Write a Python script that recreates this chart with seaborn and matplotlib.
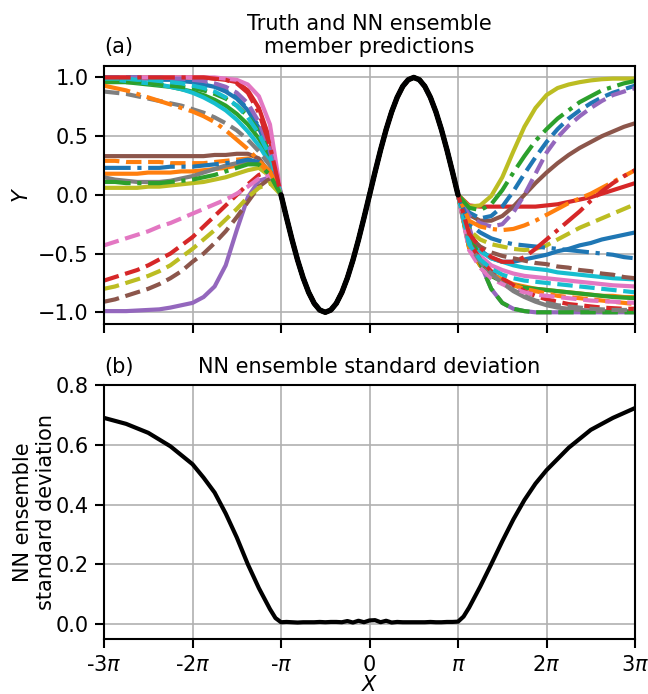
import numpy as np
import pandas as pd
import matplotlib
matplotlib.use("Agg")
import matplotlib.pyplot as plt
import seaborn as sns

# ---------------- data (x in units of pi) ----------------
x_left = [-3 + k / 8 for k in range(16)]          # -3 ... -1.125
x_center = [-1 + k / 16 for k in range(33)]       # -1 ... 1
x_right = [1 + k / 8 for k in range(1, 17)]       # 1.125 ... 3

# truth (sin) read on the centre grid
truth_center = [0.0, -0.195, -0.383, -0.556, -0.707, -0.831, -0.924, -0.981, -1.0,
                -0.981, -0.924, -0.831, -0.707, -0.556, -0.383, -0.195, 0.0,
                0.195, 0.383, 0.556, 0.707, 0.831, 0.924, 0.981, 1.0,
                0.981, 0.924, 0.831, 0.707, 0.556, 0.383, 0.195, 0.0]

colors10 = ["tab:blue", "tab:orange", "tab:green", "tab:red", "tab:purple",
            "tab:brown", "tab:pink", "tab:gray", "tab:olive", "tab:cyan"]

solid_left = [
    [0.99, 0.99, 0.99, 0.99, 0.99, 0.98, 0.98, 0.97, 0.96, 0.94, 0.92, 0.88, 0.82, 0.72, 0.57, 0.35],
    [0.18, 0.18, 0.18, 0.18, 0.19, 0.19, 0.19, 0.20, 0.20, 0.21, 0.22, 0.23, 0.25, 0.27, 0.26, 0.17],
    [0.96, 0.96, 0.96, 0.95, 0.94, 0.93, 0.92, 0.90, 0.88, 0.85, 0.81, 0.76, 0.69, 0.60, 0.48, 0.31],
    [1.00, 1.00, 1.00, 1.00, 1.00, 1.00, 1.00, 1.00, 1.00, 1.00, 0.99, 0.98, 0.96, 0.89, 0.74, 0.47],
    [-0.99, -0.99, -0.99, -0.985, -0.98, -0.975, -0.96, -0.94, -0.92, -0.87, -0.78, -0.60, -0.30, -0.02, 0.12, 0.15],
    [0.33, 0.33, 0.33, 0.33, 0.33, 0.33, 0.33, 0.33, 0.33, 0.33, 0.34, 0.34, 0.35, 0.35, 0.31, 0.18],
    [1.00, 1.00, 1.00, 1.00, 1.00, 1.00, 1.00, 1.00, 1.00, 1.00, 1.00, 0.99, 0.98, 0.94, 0.84, 0.60],
    [0.15, 0.13, 0.12, 0.11, 0.11, 0.11, 0.12, 0.14, 0.16, 0.19, 0.22, 0.25, 0.27, 0.29, 0.27, 0.17],
    [0.06, 0.06, 0.06, 0.06, 0.07, 0.07, 0.08, 0.09, 0.10, 0.11, 0.13, 0.15, 0.18, 0.21, 0.23, 0.16],
    [0.98, 0.98, 0.97, 0.96, 0.95, 0.94, 0.92, 0.90, 0.87, 0.83, 0.78, 0.72, 0.64, 0.54, 0.42, 0.27],
]
solid_right = [
    [-0.35, -0.47, -0.54, -0.57, -0.57, -0.55, -0.53, -0.51, -0.48, -0.46, -0.43, -0.41, -0.38, -0.36, -0.34, -0.32],
    [-0.44, -0.58, -0.67, -0.72, -0.76, -0.78, -0.80, -0.81, -0.82, -0.83, -0.84, -0.85, -0.86, -0.86, -0.87, -0.87],
    [-0.45, -0.60, -0.69, -0.74, -0.77, -0.79, -0.80, -0.81, -0.82, -0.83, -0.84, -0.85, -0.86, -0.87, -0.875, -0.88],
    [-0.09, -0.10, -0.10, -0.10, -0.10, -0.10, -0.10, -0.09, -0.08, -0.06, -0.04, -0.02, 0.01, 0.04, 0.07, 0.10],
    [-0.27, -0.58, -0.80, -0.92, -0.97, -0.99, -1.00, -1.00, -1.00, -1.00, -1.00, -1.00, -1.00, -1.00, -1.00, -1.00],
    [-0.17, -0.22, -0.22, -0.18, -0.10, 0.00, 0.10, 0.19, 0.27, 0.34, 0.40, 0.45, 0.50, 0.54, 0.58, 0.61],
    [-0.40, -0.52, -0.60, -0.64, -0.67, -0.69, -0.70, -0.71, -0.72, -0.73, -0.74, -0.75, -0.76, -0.77, -0.775, -0.78],
    [-0.42, -0.56, -0.66, -0.75, -0.82, -0.87, -0.91, -0.94, -0.96, -0.97, -0.98, -0.985, -0.99, -0.99, -0.99, -0.99],
    [-0.10, -0.09, -0.01, 0.15, 0.37, 0.58, 0.74, 0.85, 0.91, 0.94, 0.96, 0.975, 0.985, 0.99, 0.99, 0.99],
    [-0.37, -0.48, -0.54, -0.57, -0.60, -0.62, -0.63, -0.64, -0.66, -0.67, -0.68, -0.69, -0.70, -0.71, -0.715, -0.72],
]
dashed_left = [
    [1.00, 1.00, 1.00, 1.00, 0.99, 0.99, 0.99, 0.98, 0.97, 0.95, 0.93, 0.89, 0.83, 0.73, 0.58, 0.36],
    [0.29, 0.29, 0.28, 0.28, 0.28, 0.28, 0.27, 0.27, 0.27, 0.27, 0.28, 0.29, 0.30, 0.31, 0.28, 0.17],
    [0.97, 0.97, 0.96, 0.96, 0.95, 0.94, 0.93, 0.92, 0.91, 0.89, 0.86, 0.82, 0.76, 0.67, 0.54, 0.35],
    [-0.73, -0.70, -0.67, -0.64, -0.60, -0.55, -0.50, -0.43, -0.36, -0.27, -0.18, -0.09, 0.00, 0.09, 0.17, 0.20],
    [1.00, 1.00, 1.00, 1.00, 1.00, 1.00, 0.99, 0.99, 0.98, 0.97, 0.95, 0.92, 0.87, 0.78, 0.62, 0.38],
    [-0.91, -0.89, -0.86, -0.83, -0.80, -0.76, -0.71, -0.65, -0.57, -0.50, -0.41, -0.31, -0.19, -0.06, 0.07, 0.14],
    [-0.43, -0.40, -0.37, -0.34, -0.31, -0.27, -0.24, -0.20, -0.16, -0.12, -0.08, -0.04, 0.01, 0.07, 0.14, 0.17],
    [0.88, 0.87, 0.86, 0.84, 0.82, 0.80, 0.78, 0.76, 0.73, 0.70, 0.66, 0.61, 0.55, 0.47, 0.37, 0.25],
    [-0.80, -0.78, -0.75, -0.72, -0.69, -0.65, -0.60, -0.53, -0.46, -0.38, -0.30, -0.21, -0.12, -0.02, 0.06, 0.10],
    [0.99, 0.99, 0.99, 0.98, 0.98, 0.97, 0.96, 0.95, 0.93, 0.91, 0.88, 0.83, 0.76, 0.66, 0.52, 0.33],
]
dashed_right = [
    [-0.15, -0.20, -0.18, -0.10, 0.03, 0.18, 0.32, 0.45, 0.56, 0.65, 0.72, 0.78, 0.83, 0.87, 0.90, 0.93],
    [-0.45, -0.60, -0.68, -0.73, -0.77, -0.80, -0.82, -0.84, -0.86, -0.87, -0.88, -0.89, -0.90, -0.91, -0.92, -0.93],
    [-0.27, -0.58, -0.80, -0.92, -0.97, -0.99, -1.00, -1.00, -1.00, -1.00, -1.00, -1.00, -1.00, -1.00, -1.00, -1.00],
    [-0.40, -0.55, -0.65, -0.71, -0.77, -0.82, -0.86, -0.89, -0.91, -0.93, -0.94, -0.95, -0.96, -0.965, -0.97, -0.97],
    [-0.18, -0.24, -0.27, -0.25, -0.15, 0.00, 0.18, 0.36, 0.49, 0.59, 0.67, 0.74, 0.80, 0.85, 0.88, 0.91],
    [-0.35, -0.44, -0.49, -0.52, -0.54, -0.56, -0.58, -0.59, -0.61, -0.62, -0.64, -0.65, -0.67, -0.68, -0.70, -0.71],
    [-0.47, -0.62, -0.71, -0.76, -0.80, -0.83, -0.85, -0.86, -0.87, -0.88, -0.89, -0.90, -0.905, -0.91, -0.915, -0.92],
    [-0.42, -0.57, -0.67, -0.75, -0.81, -0.86, -0.90, -0.92, -0.94, -0.95, -0.96, -0.97, -0.975, -0.98, -0.98, -0.98],
    [-0.30, -0.38, -0.42, -0.44, -0.46, -0.47, -0.46, -0.43, -0.38, -0.33, -0.28, -0.24, -0.20, -0.16, -0.12, -0.08],
    [-0.42, -0.55, -0.63, -0.68, -0.71, -0.73, -0.74, -0.75, -0.76, -0.77, -0.78, -0.79, -0.80, -0.81, -0.82, -0.83],
]
dashdot_left = [
    [0.23, 0.23, 0.23, 0.23, 0.23, 0.23, 0.24, 0.24, 0.24, 0.25, 0.26, 0.27, 0.28, 0.30, 0.28, 0.18],
    [0.93, 0.91, 0.89, 0.86, 0.83, 0.80, 0.77, 0.74, 0.71, 0.67, 0.62, 0.55, 0.47, 0.39, 0.29, 0.20],
    [0.11, 0.11, 0.10, 0.10, 0.10, 0.10, 0.11, 0.12, 0.13, 0.15, 0.17, 0.20, 0.23, 0.26, 0.26, 0.17],
    [1.00, 1.00, 1.00, 1.00, 1.00, 1.00, 1.00, 1.00, 1.00, 1.00, 0.99, 0.98, 0.95, 0.87, 0.70, 0.42],
]
dashdot_right = [
    [-0.25, -0.32, -0.37, -0.40, -0.42, -0.43, -0.44, -0.45, -0.46, -0.47, -0.48, -0.49, -0.50, -0.51, -0.53, -0.54],
    [-0.22, -0.27, -0.29, -0.30, -0.29, -0.26, -0.22, -0.17, -0.12, -0.07, -0.03, 0.01, 0.06, 0.11, 0.16, 0.21],
    [-0.11, -0.13, -0.08, 0.04, 0.19, 0.33, 0.46, 0.56, 0.65, 0.72, 0.79, 0.84, 0.89, 0.92, 0.95, 0.97],
    [-0.33, -0.45, -0.53, -0.57, -0.57, -0.53, -0.46, -0.38, -0.30, -0.22, -0.14, -0.05, 0.03, 0.10, 0.16, 0.21],
]

# ensemble standard deviation
std_x = ([-3, -2.75, -2.5, -2.25, -2, -1.875, -1.75, -1.625, -1.5, -1.375, -1.25, -1.125, -1.0625]
         + [-1 + k / 16 for k in range(33)]
         + [1.0625, 1.125, 1.25, 1.375, 1.5, 1.625, 1.75, 1.875, 2, 2.25, 2.5, 2.75, 3])
std_vals = ([0.69, 0.67, 0.64, 0.595, 0.535, 0.49, 0.44, 0.37, 0.29, 0.20, 0.12, 0.05, 0.02]
            + [0.006, 0.007, 0.006, 0.005, 0.006, 0.006, 0.006, 0.007, 0.006, 0.007, 0.007,
               0.006, 0.010, 0.005, 0.011, 0.006, 0.012, 0.013, 0.006, 0.011, 0.005, 0.007,
               0.006, 0.006, 0.006, 0.006, 0.006, 0.007, 0.006, 0.006, 0.007, 0.007, 0.008]
            + [0.025, 0.055, 0.125, 0.20, 0.277, 0.35, 0.415, 0.47, 0.515, 0.59, 0.65, 0.69, 0.723])

tick_pos = [-3, -2, -1, 0, 1, 2, 3]
tick_labels = ["-3$\\pi$", "-2$\\pi$", "-$\\pi$", "0", "$\\pi$", "2$\\pi$", "3$\\pi$"]

# ---------------- style ----------------
sns.set_theme(style="ticks")
plt.rcParams.update({
    "font.family": ["DejaVu Sans"],
    "mathtext.fontset": "dejavusans",
    "font.size": 10, "axes.titlesize": 10, "axes.labelsize": 10,
    "xtick.labelsize": 10, "ytick.labelsize": 10,
    "text.color": "black", "axes.labelcolor": "black",
    "xtick.color": "black", "ytick.color": "black",
    "axes.edgecolor": "black", "axes.linewidth": 1.0,
    "xtick.major.size": 4.5, "ytick.major.size": 4.5,
    "xtick.major.width": 1.0, "ytick.major.width": 1.0,
    "xtick.major.pad": 3.0, "ytick.major.pad": 3.0,
    "grid.color": "#b0b0b0", "grid.linewidth": 0.8,
    "axes.titlepad": 6.0,
})

fig = plt.figure(figsize=(648 / 150, 694 / 150), dpi=150)
ax1 = fig.add_axes([0.1605, 0.5331, 0.8195, 0.3722])
ax2 = fig.add_axes([0.1605, 0.0793, 0.8195, 0.3659])

pi = np.pi
xl = np.array(x_left) * pi
xc = np.array(x_center) * pi
xr = np.array(x_right) * pi
x_all = np.concatenate([xl, xc, xr])

groups = [(solid_left, solid_right, "-"), (dashed_left, dashed_right, "--"),
          (dashdot_left, dashdot_right, "-.")]
for lefts, rights, ls in groups:
    for i, (lv, rv) in enumerate(zip(lefts, rights)):
        y_all = np.concatenate([lv, truth_center, rv])
        sns.lineplot(x=x_all, y=y_all, ax=ax1, color=colors10[i], linestyle=ls,
                     linewidth=2.0, sort=False, estimator=None)

sns.lineplot(x=xc, y=truth_center, ax=ax1, color="black", linewidth=2.6,
             sort=False, estimator=None)

sns.lineplot(x=np.array(std_x) * pi, y=std_vals, ax=ax2, color="black",
             linewidth=2.0, sort=False, estimator=None)

for ax in (ax1, ax2):
    ax.set_xlim(-3 * pi, 3 * pi)
    ax.set_xticks(np.array(tick_pos) * pi)
    ax.grid(True)
    ax.set_axisbelow(True)

ax1.set_xticklabels([])
ax1.set_ylim(-1.1, 1.1)
ax1.set_yticks([-1.0, -0.5, 0.0, 0.5, 1.0])
ax1.set_ylabel("$Y$")
ax1.yaxis.set_label_coords(-0.135, 0.5)
ax1.set_title("Truth and NN ensemble\nmember predictions")
ax1.set_title("(a)", loc="left")

ax2.set_xticklabels(tick_labels)
ax2.set_ylim(-0.05, 0.8)
ax2.set_yticks([0.0, 0.2, 0.4, 0.6, 0.8])
ax2.set_xlabel("$X$")
ax2.xaxis.set_label_coords(0.5, -0.142)
ax2.set_ylabel("NN ensemble\nstandard deviation")
ax2.yaxis.set_label_coords(-0.09, 0.5)
ax2.set_title("NN ensemble standard deviation")
ax2.set_title("(b)", loc="left")

fig.savefig("out.png", dpi=150)
